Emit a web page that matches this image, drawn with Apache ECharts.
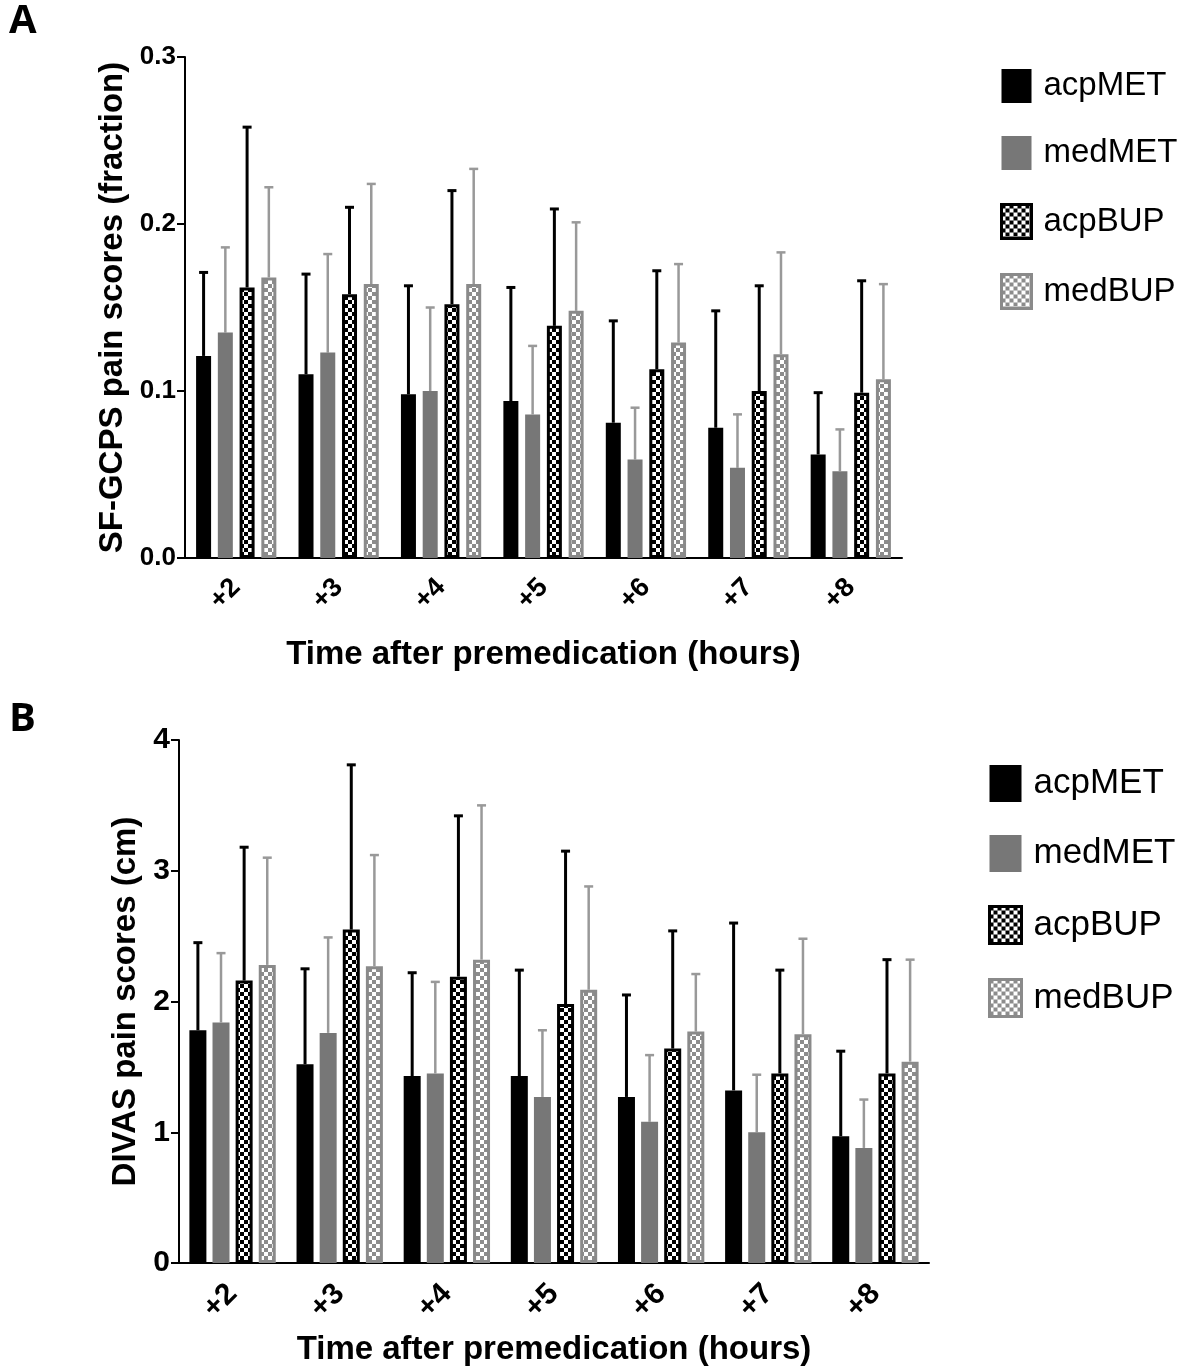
<!DOCTYPE html>
<html><head><meta charset="utf-8">
<script src="https://cdn.jsdelivr.net/npm/echarts@6/dist/echarts.min.js"></script>
<style>html,body{margin:0;padding:0;background:#fff}#c{width:1191px;height:1367px}</style>
</head><body><div id="c"></div>
<script>
// ---------- DATA ----------
const categories = ['+2', '+3', '+4', '+5', '+6', '+7', '+8'];
const seriesNames = ['acpMET', 'medMET', 'acpBUP', 'medBUP'];
const yTicksA = [0.0, 0.1, 0.2, 0.3];
const yTicksB = [0, 1, 2, 3, 4];

// Panel A: SF-GCPS pain scores (fraction) — mean and SD (upper error bar)
const A_acpMET    = [0.121, 0.110, 0.098, 0.094, 0.081, 0.078, 0.062];
const A_acpMET_sd = [0.050, 0.060, 0.065, 0.068, 0.061, 0.070, 0.037];
const A_medMET    = [0.135, 0.123, 0.100, 0.086, 0.059, 0.054, 0.052];
const A_medMET_sd = [0.051, 0.059, 0.050, 0.041, 0.031, 0.032, 0.025];
const A_acpBUP    = [0.162, 0.158, 0.152, 0.139, 0.113, 0.100, 0.099];
const A_acpBUP_sd = [0.096, 0.052, 0.068, 0.070, 0.059, 0.063, 0.067];
const A_medBUP    = [0.168, 0.164, 0.164, 0.148, 0.129, 0.122, 0.107];
const A_medBUP_sd = [0.054, 0.060, 0.069, 0.053, 0.047, 0.061, 0.057];

// Panel B: DIVAS pain scores (cm) — mean and SD (upper error bar)
const B_acpMET    = [1.78, 1.52, 1.43, 1.43, 1.27, 1.32, 0.97];
const B_acpMET_sd = [0.67, 0.73, 0.79, 0.81, 0.78, 1.28, 0.65];
const B_medMET    = [1.84, 1.76, 1.45, 1.27, 1.08, 1.00, 0.88];
const B_medMET_sd = [0.53, 0.73, 0.70, 0.51, 0.51, 0.44, 0.37];
const B_acpBUP    = [2.16, 2.55, 2.19, 1.98, 1.64, 1.45, 1.45];
const B_acpBUP_sd = [1.02, 1.26, 1.23, 1.17, 0.90, 0.79, 0.87];
const B_medBUP    = [2.28, 2.27, 2.32, 2.09, 1.77, 1.75, 1.54];
const B_medBUP_sd = [0.82, 0.85, 1.18, 0.79, 0.44, 0.73, 0.78];

// ---------- STYLES ----------
const FONT = '"Liberation Sans", Arial, sans-serif';
function checker(col, cell) {
  const cv = document.createElement('canvas');
  cv.width = cv.height = cell * 2;
  const g = cv.getContext('2d');
  g.fillStyle = '#fff'; g.fillRect(0, 0, cell * 2, cell * 2);
  g.fillStyle = col; g.fillRect(0, 0, cell, cell); g.fillRect(cell, cell, cell, cell);
  return cv;
}
const patBlack = { image: checker('#000', 4), repeat: 'repeat' };
const patGray = { image: checker('#8c8c8c', 4), repeat: 'repeat' };
const styles = {
  acpMET: { color: '#000' },
  medMET: { color: '#777' },
  acpBUP: { color: patBlack, borderColor: '#000', borderWidth: 3 },
  medBUP: { color: patGray, borderColor: '#8a8a8a', borderWidth: 3 }
};
const errColors = { acpMET: '#000', medMET: '#999', acpBUP: '#000', medBUP: '#999' };
const errWidths = { acpMET: 3, medMET: 2.5, acpBUP: 3, medBUP: 2.5 };

const panels = [
  { means: [A_acpMET, A_medMET, A_acpBUP, A_medBUP], sds: [A_acpMET_sd, A_medMET_sd, A_acpBUP_sd, A_medBUP_sd], barWidth: 15, gapRatio: 0.45 },
  { means: [B_acpMET, B_medMET, B_acpBUP, B_medBUP], sds: [B_acpMET_sd, B_medMET_sd, B_acpBUP_sd, B_medBUP_sd], barWidth: 17, gapRatio: 0.36 }
];

function errRender(offset, color, lw, cap) {
  return function (params, api) {
    const x = api.value(0), m = api.value(1), s = api.value(2);
    const p0 = api.coord([x, m]);
    const p1 = api.coord([x, m + s]);
    const cx = p0[0] + offset;
    return {
      type: 'group', children: [
        { type: 'line', shape: { x1: cx, y1: p0[1], x2: cx, y2: p1[1] }, style: { stroke: color, lineWidth: lw } },
        { type: 'line', shape: { x1: cx - cap / 2, y1: p1[1], x2: cx + cap / 2, y2: p1[1] }, style: { stroke: color, lineWidth: lw } }
      ]
    };
  };
}

const series = [];
panels.forEach((p, pi) => {
  seriesNames.forEach((n, si) => {
    series.push({
      name: n, type: 'bar', xAxisIndex: pi, yAxisIndex: pi,
      barWidth: p.barWidth, barGap: (p.gapRatio * 100) + '%',
      itemStyle: styles[n], data: p.means[si], z: 2,
      emphasis: { disabled: true }
    });
  });
  const step = p.barWidth * (1 + p.gapRatio);
  seriesNames.forEach((n, si) => {
    series.push({
      type: 'custom', xAxisIndex: pi, yAxisIndex: pi, z: 1,
      renderItem: errRender((si - 1.5) * step, errColors[n], errWidths[n], 9),
      data: categories.map((c, i) => [i, p.means[si][i], p.sds[si][i]]),
      silent: true
    });
  });
});

const axisLineStyle = { color: '#000', width: 2 };
function xAxis(gi, labelSize, margin, nameGap) {
  return {
    gridIndex: gi, type: 'category', data: categories,
    axisLine: { lineStyle: axisLineStyle },
    axisTick: { alignWithLabel: true, length: 8, lineStyle: axisLineStyle },
    axisLabel: { rotate: 45, fontSize: labelSize, fontWeight: 'bold', color: '#000', fontFamily: FONT, margin: margin },
    name: 'Time after premedication (hours)', nameLocation: 'middle', nameGap: nameGap,
    nameTextStyle: { fontSize: 33, fontWeight: 'bold', color: '#000', fontFamily: FONT }
  };
}
function yAxis(gi, ticks, name, labelSize, nameGap, fmt) {
  return {
    gridIndex: gi, type: 'value', min: ticks[0], max: ticks[ticks.length - 1], interval: ticks[1] - ticks[0],
    axisLine: { show: true, lineStyle: axisLineStyle },
    axisTick: { show: true, length: 8, lineStyle: axisLineStyle },
    splitLine: { show: false },
    axisLabel: { fontSize: labelSize, fontWeight: 'bold', color: '#000', fontFamily: FONT, margin: 9, formatter: fmt },
    name: name, nameLocation: 'middle', nameGap: nameGap,
    nameTextStyle: { fontSize: 33, fontWeight: 'bold', color: '#000', fontFamily: FONT }
  };
}
function legend(left, top, iw, ih, fs, gap) {
  return {
    orient: 'vertical', left: left, top: top, padding: 0, itemGap: gap,
    itemWidth: iw, itemHeight: ih, icon: 'rect', selectedMode: false,
    textStyle: { fontSize: fs, color: '#000', fontFamily: FONT, lineHeight: ih, padding: [0, 0, 0, 7] },
    data: seriesNames.map(n => ({ name: n, itemStyle: styles[n] }))
  };
}

const option = {
  animation: false,
  backgroundColor: '#fff',
  title: [
    { text: 'A', left: 9, top: 2, padding: 0, textStyle: { fontSize: 40, fontWeight: 'bold', color: '#000', fontFamily: '"Open Sans", sans-serif' } },
    { text: 'B', left: 9, top: 700, padding: 0, textStyle: { fontSize: 40, fontWeight: 'bold', color: '#000', fontFamily: '"Open Sans", sans-serif' } }
  ],
  grid: [
    { left: 185, top: 57, width: 717, height: 501 },
    { left: 179, top: 740, width: 750, height: 523 }
  ],
  legend: [legend(1000, 69, 30, 34, 33, 33), legend(988, 765, 32, 37, 35, 33)],
  xAxis: [xAxis(0, 27, 25, 80), xAxis(1, 30, 26, 70)],
  yAxis: [
    yAxis(0, yTicksA, 'SF-GCPS pain scores (fraction)', 26, 54, v => v.toFixed(1)),
    yAxis(1, yTicksB, 'DIVAS pain scores (cm)', 30, 26, v => String(v))
  ],
  series: series
};
const chart = echarts.init(document.getElementById('c'), null, { renderer: 'canvas' });
chart.setOption(option);
</script>
</body></html>
